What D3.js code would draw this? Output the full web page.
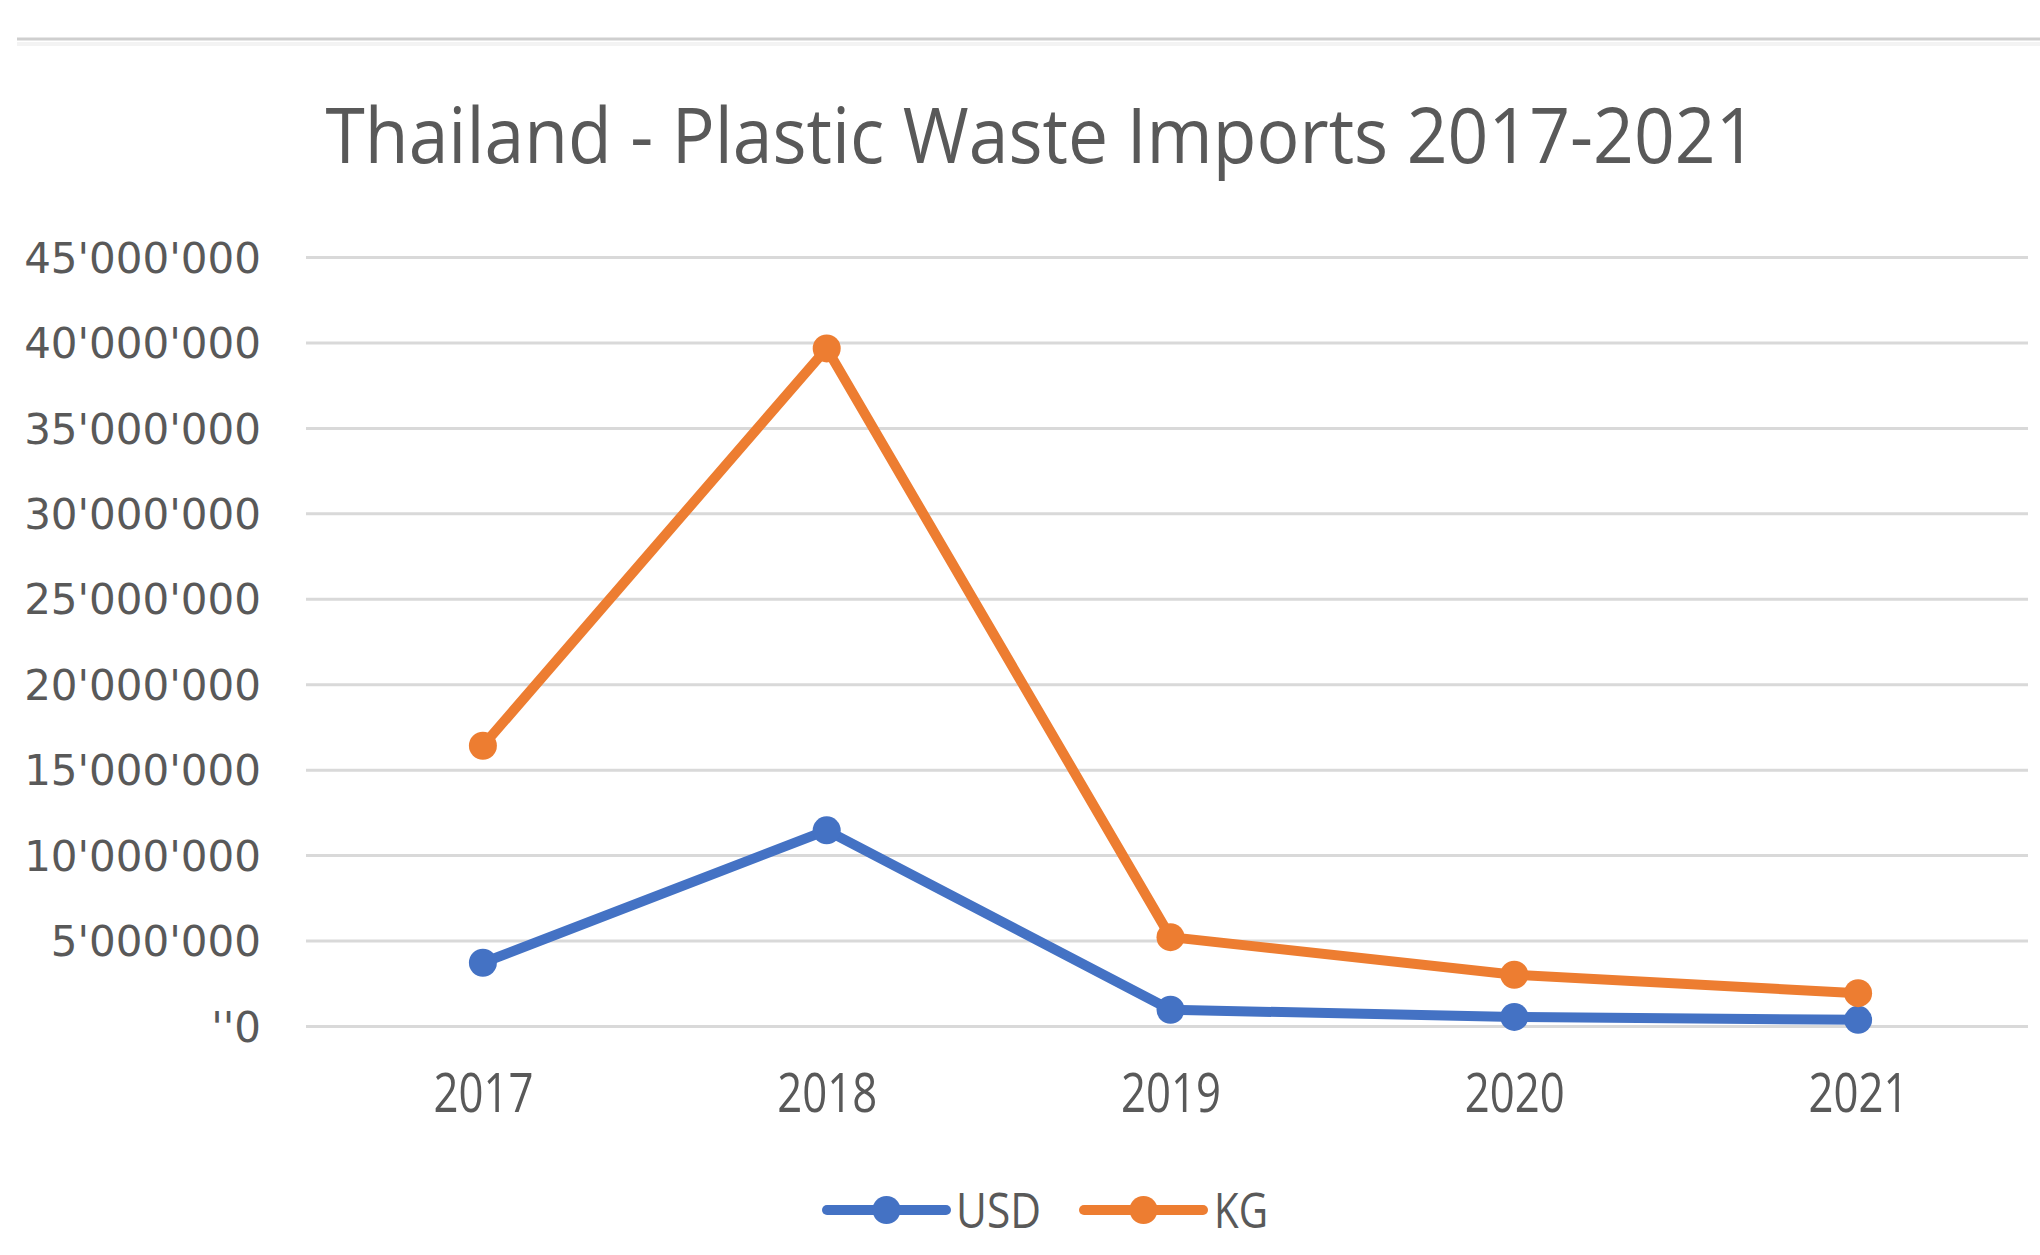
<!DOCTYPE html>
<html>
<head>
<meta charset="utf-8">
<script src="https://cdn.jsdelivr.net/npm/d3@7"></script>
<style>
  html, body { margin: 0; padding: 0; background: #ffffff; }
  svg { display: block; }
</style>
</head>
<body>
<svg id="chart" width="2040" height="1255"></svg>
<script>
const title = "Thailand - Plastic Waste Imports 2017-2021";
const years = ["2017", "2018", "2019", "2020", "2021"];
const usdValues = [3700000, 11450000, 950000, 530000, 360000];
const kgValues = [16400000, 39650000, 5200000, 3000000, 1920000];
const yTicks = [0, 5000000, 10000000, 15000000, 20000000, 25000000, 30000000, 35000000, 40000000, 45000000];
const yTickLabels = ["''0", "5'000'000", "10'000'000", "15'000'000", "20'000'000", "25'000'000", "30'000'000", "35'000'000", "40'000'000", "45'000'000"];
const seriesNames = ["USD", "KG"];
const seriesColors = ["#4472C4", "#ED7D31"];

const svg = d3.select("#chart");
const W = 2040, H = 1255;
const plot = { left: 306, right: 2028, top: 257, bottom: 1026 };
const pointRange = [311, 2030];

// top separator line
svg.append("line").attr("x1", 17).attr("x2", W).attr("y1", 39).attr("y2", 39)
  .attr("stroke", "#cfcfcf").attr("stroke-width", 3);
svg.append("line").attr("x1", 17).attr("x2", W).attr("y1", 44).attr("y2", 44)
  .attr("stroke", "#f3f3f3").attr("stroke-width", 4);

// title
svg.append("text").attr("x", 1041).attr("y", 163).attr("text-anchor", "middle")
  .attr("font-family", "Open Sans").attr("font-size", 77).attr("fill", "#595959")
  .attr("textLength", 1431).attr("lengthAdjust", "spacingAndGlyphs")
  .text(title);

const x = d3.scalePoint().domain(years).range(pointRange).padding(0.5);
const y = d3.scaleLinear().domain([0, 45000000]).range([plot.bottom, plot.top]);

// gridlines
const grid = svg.append("g").attr("transform", `translate(${plot.left},0)`)
  .call(d3.axisLeft(y).tickValues(yTicks).tickSize(-(plot.right - plot.left)).tickFormat(""));
grid.select(".domain").remove();
grid.selectAll(".tick line").attr("stroke", "#d9d9d9").attr("stroke-width", 3);

// y axis labels
const yAxis = svg.append("g").attr("transform", `translate(261,0)`)
  .call(d3.axisLeft(y).tickValues(yTicks).tickSize(0).tickPadding(0)
    .tickFormat((d, i) => yTickLabels[yTicks.indexOf(d)]));
yAxis.select(".domain").remove();
yAxis.selectAll("text").attr("font-family", "DejaVu Sans").attr("font-size", 42)
  .attr("fill", "#595959").attr("dy", "0.36em")
  .attr("textLength", function() { return null; });

// x axis labels
const xAxis = svg.append("g").attr("transform", `translate(0,${plot.bottom})`)
  .call(d3.axisBottom(x).tickSize(0).tickPadding(0));
xAxis.select(".domain").remove();
xAxis.selectAll("text").attr("font-family", "Open Sans").attr("font-size", 55)
  .attr("fill", "#595959").attr("y", 86).attr("dy", 0)
  .attr("textLength", 100).attr("lengthAdjust", "spacingAndGlyphs");

// lines
const series = [usdValues, kgValues];
const line = d3.line().x((d, i) => x(years[i])).y(d => y(d));
series.forEach((vals, s) => {
  svg.append("path").datum(vals).attr("d", line).attr("fill", "none")
    .attr("stroke", seriesColors[s]).attr("stroke-width", 10)
    .attr("stroke-linejoin", "round").attr("stroke-linecap", "round");
  svg.append("g").selectAll("circle").data(vals).join("circle")
    .attr("cx", (d, i) => x(years[i])).attr("cy", d => y(d)).attr("r", 14)
    .attr("fill", seriesColors[s]);
});

// legend
const legendItems = [
  { x1: 827, x2: 946, tx: 956, tw: 85 },
  { x1: 1084, x2: 1203, tx: 1214, tw: 54 }
];
const ly = 1210;
legendItems.forEach((it, s) => {
  const g = svg.append("g");
  g.append("line").attr("x1", it.x1).attr("x2", it.x2).attr("y1", ly).attr("y2", ly)
    .attr("stroke", seriesColors[s]).attr("stroke-width", 10).attr("stroke-linecap", "round");
  g.append("circle").attr("cx", (it.x1 + it.x2) / 2).attr("cy", ly).attr("r", 14).attr("fill", seriesColors[s]);
  g.append("text").attr("x", it.tx).attr("y", ly + 18).attr("font-family", "Open Sans")
    .attr("font-size", 50).attr("fill", "#595959")
    .attr("textLength", it.tw).attr("lengthAdjust", "spacingAndGlyphs")
    .text(seriesNames[s]);
});
</script>
</body>
</html>
